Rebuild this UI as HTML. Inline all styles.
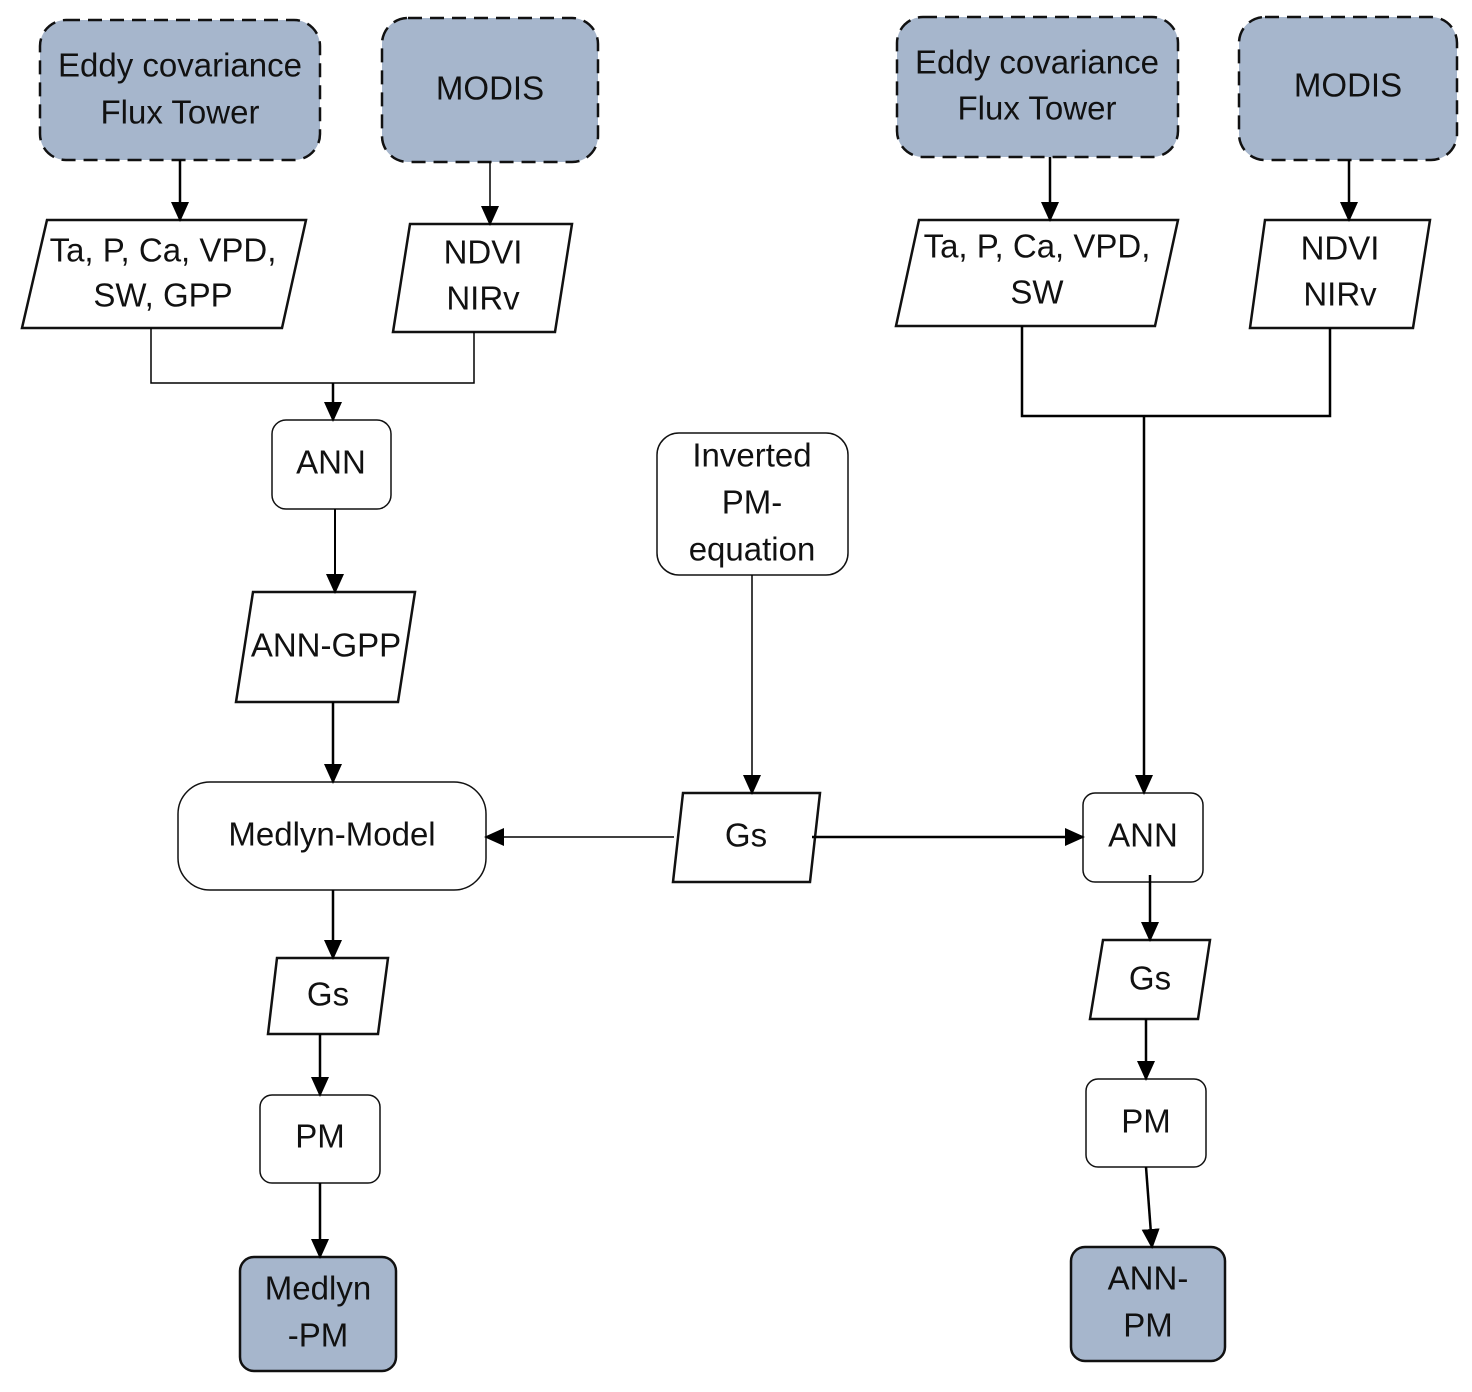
<!DOCTYPE html>
<html><head><meta charset="utf-8"><style>
html,body{margin:0;padding:0;background:#fff;}
svg text{font-family:"Liberation Sans",sans-serif;font-size:33px;fill:#111;text-anchor:middle;dominant-baseline:middle;}
</style></head><body>
<svg width="1472" height="1387" viewBox="0 0 1472 1387" xmlns="http://www.w3.org/2000/svg">
<defs>
<marker id="b" markerWidth="20" markerHeight="18" refX="18" refY="9" orient="auto" markerUnits="userSpaceOnUse" viewBox="0 0 20 18">
<path d="M0,0 L20,9 L0,18 z" fill="#000"/></marker>
</defs>
<g stroke="#111" stroke-width="2.5">
<rect x="40" y="20" width="280" height="140" rx="26" fill="#a6b6cc" stroke-dasharray="14,8"/>
<rect x="382" y="18" width="216" height="144" rx="26" fill="#a6b6cc" stroke-dasharray="14,8"/>
<rect x="897" y="17" width="281" height="140" rx="26" fill="#a6b6cc" stroke-dasharray="14,8"/>
<rect x="1239" y="17" width="218" height="143" rx="26" fill="#a6b6cc" stroke-dasharray="14,8"/>
<polygon points="47,220 306,220 282,328 22,328" fill="#fff"/>
<polygon points="410,224 572,224 555,332 393,332" fill="#fff"/>
<polygon points="253,592 415,592 398,702 236,702" fill="#fff"/>
<polygon points="277,958 388,958 378,1034 268,1034" fill="#fff"/>
<polygon points="683,793 820,793 810,882 673,882" fill="#fff"/>
<polygon points="919,220 1178,220 1155,326 896,326" fill="#fff"/>
<polygon points="1265,220 1430,220 1413,328 1250,328" fill="#fff"/>
<polygon points="1103,940 1210,940 1198,1019 1090,1019" fill="#fff"/>
<rect x="272" y="420" width="119" height="89" rx="14" fill="#fff" stroke-width="1.5"/>
<rect x="178" y="782" width="308" height="108" rx="32" fill="#fff" stroke-width="1.5"/>
<rect x="260" y="1095" width="120" height="88" rx="12" fill="#fff" stroke-width="1.5"/>
<rect x="240" y="1257" width="156" height="114" rx="14" fill="#a6b6cc"/>
<rect x="657" y="433" width="191" height="142" rx="22" fill="#fff" stroke-width="1.5"/>
<rect x="1083" y="793" width="120" height="89" rx="12" fill="#fff" stroke-width="1.5"/>
<rect x="1086" y="1079" width="120" height="88" rx="12" fill="#fff" stroke-width="1.5"/>
<rect x="1071" y="1247" width="154" height="114" rx="14" fill="#a6b6cc"/>
</g>
<g stroke="#000" stroke-width="2.5" fill="none">
<line x1="180" y1="160" x2="180" y2="220" marker-end="url(#b)"/>
<line x1="490" y1="162" x2="490" y2="224" stroke-width="1.5" marker-end="url(#b)"/>
<polyline points="151,328 151,383 474,383 474,332" stroke-width="1.5"/>
<line x1="333" y1="383" x2="333" y2="420" marker-end="url(#b)"/>
<line x1="335" y1="509" x2="335" y2="592" stroke-width="2" marker-end="url(#b)"/>
<line x1="333" y1="702" x2="333" y2="782" marker-end="url(#b)"/>
<line x1="333" y1="890" x2="333" y2="958" marker-end="url(#b)"/>
<line x1="320" y1="1034" x2="320" y2="1095" marker-end="url(#b)"/>
<line x1="320" y1="1183" x2="320" y2="1257" marker-end="url(#b)"/>
<line x1="752" y1="575" x2="752" y2="793" stroke-width="1.5" marker-end="url(#b)"/>
<line x1="674" y1="837" x2="486" y2="837" stroke-width="1.5" marker-end="url(#b)"/>
<line x1="812" y1="837" x2="1083" y2="837" marker-end="url(#b)"/>
<line x1="1050" y1="157" x2="1050" y2="220" marker-end="url(#b)"/>
<line x1="1349" y1="160" x2="1349" y2="220" marker-end="url(#b)"/>
<polyline points="1022,326 1022,416 1330,416 1330,328"/>
<line x1="1144" y1="416" x2="1144" y2="793" marker-end="url(#b)"/>
<line x1="1150" y1="875" x2="1150" y2="940" marker-end="url(#b)"/>
<line x1="1146" y1="1019" x2="1146" y2="1079" marker-end="url(#b)"/>
<line x1="1146" y1="1167" x2="1152" y2="1247" marker-end="url(#b)"/>
</g>
<g>
<text x="180" y="68">Eddy covariance</text>
<text x="180" y="115">Flux Tower</text>
<text x="490" y="91">MODIS</text>
<text x="1037" y="65">Eddy covariance</text>
<text x="1037" y="111">Flux Tower</text>
<text x="1348" y="88">MODIS</text>
<text x="163" y="253">Ta, P, Ca, VPD,</text>
<text x="163" y="298">SW, GPP</text>
<text x="483" y="255">NDVI</text>
<text x="483" y="301">NIRv</text>
<text x="1037" y="249">Ta, P, Ca, VPD,</text>
<text x="1037" y="295">SW</text>
<text x="1340" y="251">NDVI</text>
<text x="1340" y="297">NIRv</text>
<text x="331" y="465">ANN</text>
<text x="326" y="648">ANN-GPP</text>
<text x="332" y="837">Medlyn-Model</text>
<text x="328" y="997">Gs</text>
<text x="320" y="1139">PM</text>
<text x="318" y="1291">Medlyn</text>
<text x="318" y="1338">-PM</text>
<text x="752" y="458">Inverted</text>
<text x="752" y="505">PM-</text>
<text x="752" y="552">equation</text>
<text x="746" y="838">Gs</text>
<text x="1143" y="838">ANN</text>
<text x="1150" y="981">Gs</text>
<text x="1146" y="1124">PM</text>
<text x="1148" y="1281">ANN-</text>
<text x="1148" y="1328">PM</text>
</g>
</svg>
</body></html>
